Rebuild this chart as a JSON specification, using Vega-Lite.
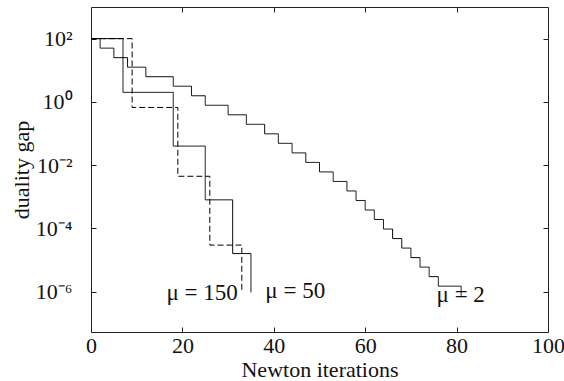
{
  "$schema": "https://vega.github.io/schema/vega-lite/v6.json",
  "width": 457,
  "height": 325,
  "autosize": {"type": "none"},
  "padding": {"left": 91, "top": 7, "right": 16, "bottom": 49},
  "background": "white",
  "config": {
    "view": {"stroke": "#222", "strokeWidth": 1},
    "font": "Liberation Serif",
    "axis": {
      "domain": false,
      "grid": false,
      "tickColor": "#222",
      "tickSize": -5,
      "labelFlush": false,
      "labelFont": "Liberation Serif",
      "labelFontSize": 22,
      "labelColor": "#111",
      "titleFont": "Liberation Serif",
      "titleFontSize": 22,
      "titleFontWeight": "normal",
      "titleColor": "#111"
    }
  },
  "datasets": {
    "curves": [
      {"series": "mu2", "iter": 0, "gap": 100},
      {"series": "mu2", "iter": 2, "gap": 50},
      {"series": "mu2", "iter": 5, "gap": 25},
      {"series": "mu2", "iter": 8, "gap": 12.5},
      {"series": "mu2", "iter": 12, "gap": 6.25},
      {"series": "mu2", "iter": 18, "gap": 3.125},
      {"series": "mu2", "iter": 22, "gap": 1.5625},
      {"series": "mu2", "iter": 25, "gap": 0.78125},
      {"series": "mu2", "iter": 30, "gap": 0.390625},
      {"series": "mu2", "iter": 34, "gap": 0.1953125},
      {"series": "mu2", "iter": 38, "gap": 0.09765625},
      {"series": "mu2", "iter": 41, "gap": 0.048828125},
      {"series": "mu2", "iter": 44, "gap": 0.0244140625},
      {"series": "mu2", "iter": 47, "gap": 0.01220703125},
      {"series": "mu2", "iter": 50, "gap": 0.006103515625},
      {"series": "mu2", "iter": 53, "gap": 0.0030517578125},
      {"series": "mu2", "iter": 56, "gap": 0.00152587890625},
      {"series": "mu2", "iter": 58, "gap": 0.000762939453125},
      {"series": "mu2", "iter": 60, "gap": 0.0003814697265625},
      {"series": "mu2", "iter": 62, "gap": 0.00019073486328125},
      {"series": "mu2", "iter": 64, "gap": 0.000095367431640625},
      {"series": "mu2", "iter": 66, "gap": 0.0000476837158203125},
      {"series": "mu2", "iter": 68, "gap": 0.00002384185791015625},
      {"series": "mu2", "iter": 70, "gap": 0.000011920928955078125},
      {"series": "mu2", "iter": 72, "gap": 0.0000059604644775390625},
      {"series": "mu2", "iter": 74, "gap": 0.0000029802322387695312},
      {"series": "mu2", "iter": 76, "gap": 0.0000014901161193847656},
      {"series": "mu2", "iter": 81, "gap": 0.0000007450580596923828},
      {"series": "mu50", "iter": 0, "gap": 100},
      {"series": "mu50", "iter": 7, "gap": 2},
      {"series": "mu50", "iter": 18, "gap": 0.04},
      {"series": "mu50", "iter": 25, "gap": 0.0008},
      {"series": "mu50", "iter": 31, "gap": 0.000016},
      {"series": "mu50", "iter": 35, "gap": 0.00000095},
      {"series": "mu150", "iter": 0, "gap": 100},
      {"series": "mu150", "iter": 9, "gap": 0.6667},
      {"series": "mu150", "iter": 19, "gap": 0.004444},
      {"series": "mu150", "iter": 26, "gap": 0.00002963},
      {"series": "mu150", "iter": 33, "gap": 0.00000095}
    ],
    "labels": [
      {"label": "μ = 150", "iter": 24.3, "gap": 0.00000056},
      {"label": "μ = 50", "iter": 44.7, "gap": 0.00000064},
      {"label": "μ = 2", "iter": 80.9, "gap": 0.00000048}
    ]
  },
  "layer": [
    {
      "data": {"name": "curves"},
      "mark": {"type": "line", "interpolate": "step-after", "color": "black", "strokeWidth": 1},
      "encoding": {
        "x": {
          "field": "iter", "type": "quantitative",
          "scale": {"domain": [0, 100], "nice": false, "zero": false},
          "axis": {"orient": "bottom", "values": [0, 20, 40, 60, 80, 100], "title": "Newton iterations", "labelPadding": 8, "titlePadding": 3}
        },
        "y": {
          "field": "gap", "type": "quantitative",
          "scale": {"type": "log", "domain": [5.3e-8, 1000], "nice": false},
          "axis": {
            "orient": "left",
            "values": [100, 1, 0.01, 0.0001, 0.000001],
            "labelExpr": "datum.value >= 99 ? '10²' : datum.value >= 0.99 ? '10⁰' : datum.value >= 0.0099 ? '10⁻²' : datum.value >= 0.000099 ? '10⁻⁴' : '10⁻⁶'",
            "title": "duality gap",
            "labelPadding": 24,
            "titlePadding": 2
          }
        },
        "strokeDash": {
          "field": "series", "type": "nominal",
          "scale": {"domain": ["mu2", "mu50", "mu150"], "range": [[1, 0], [1, 0], [6, 3]]},
          "legend": null
        }
      }
    },
    {
      "data": {"name": "labels"},
      "mark": {"type": "text", "font": "Liberation Serif", "fontSize": 23, "color": "#111", "align": "center", "baseline": "alphabetic"},
      "encoding": {
        "x": {
          "field": "iter", "type": "quantitative",
          "axis": {"orient": "top", "values": [20, 40, 60, 80], "labels": false, "title": null}
        },
        "y": {
          "field": "gap", "type": "quantitative",
          "axis": {"orient": "right", "values": [100, 1, 0.01, 0.0001, 0.000001], "labels": false, "title": null}
        },
        "text": {"field": "label"}
      }
    }
  ],
  "resolve": {"axis": {"x": "independent", "y": "independent"}}
}
